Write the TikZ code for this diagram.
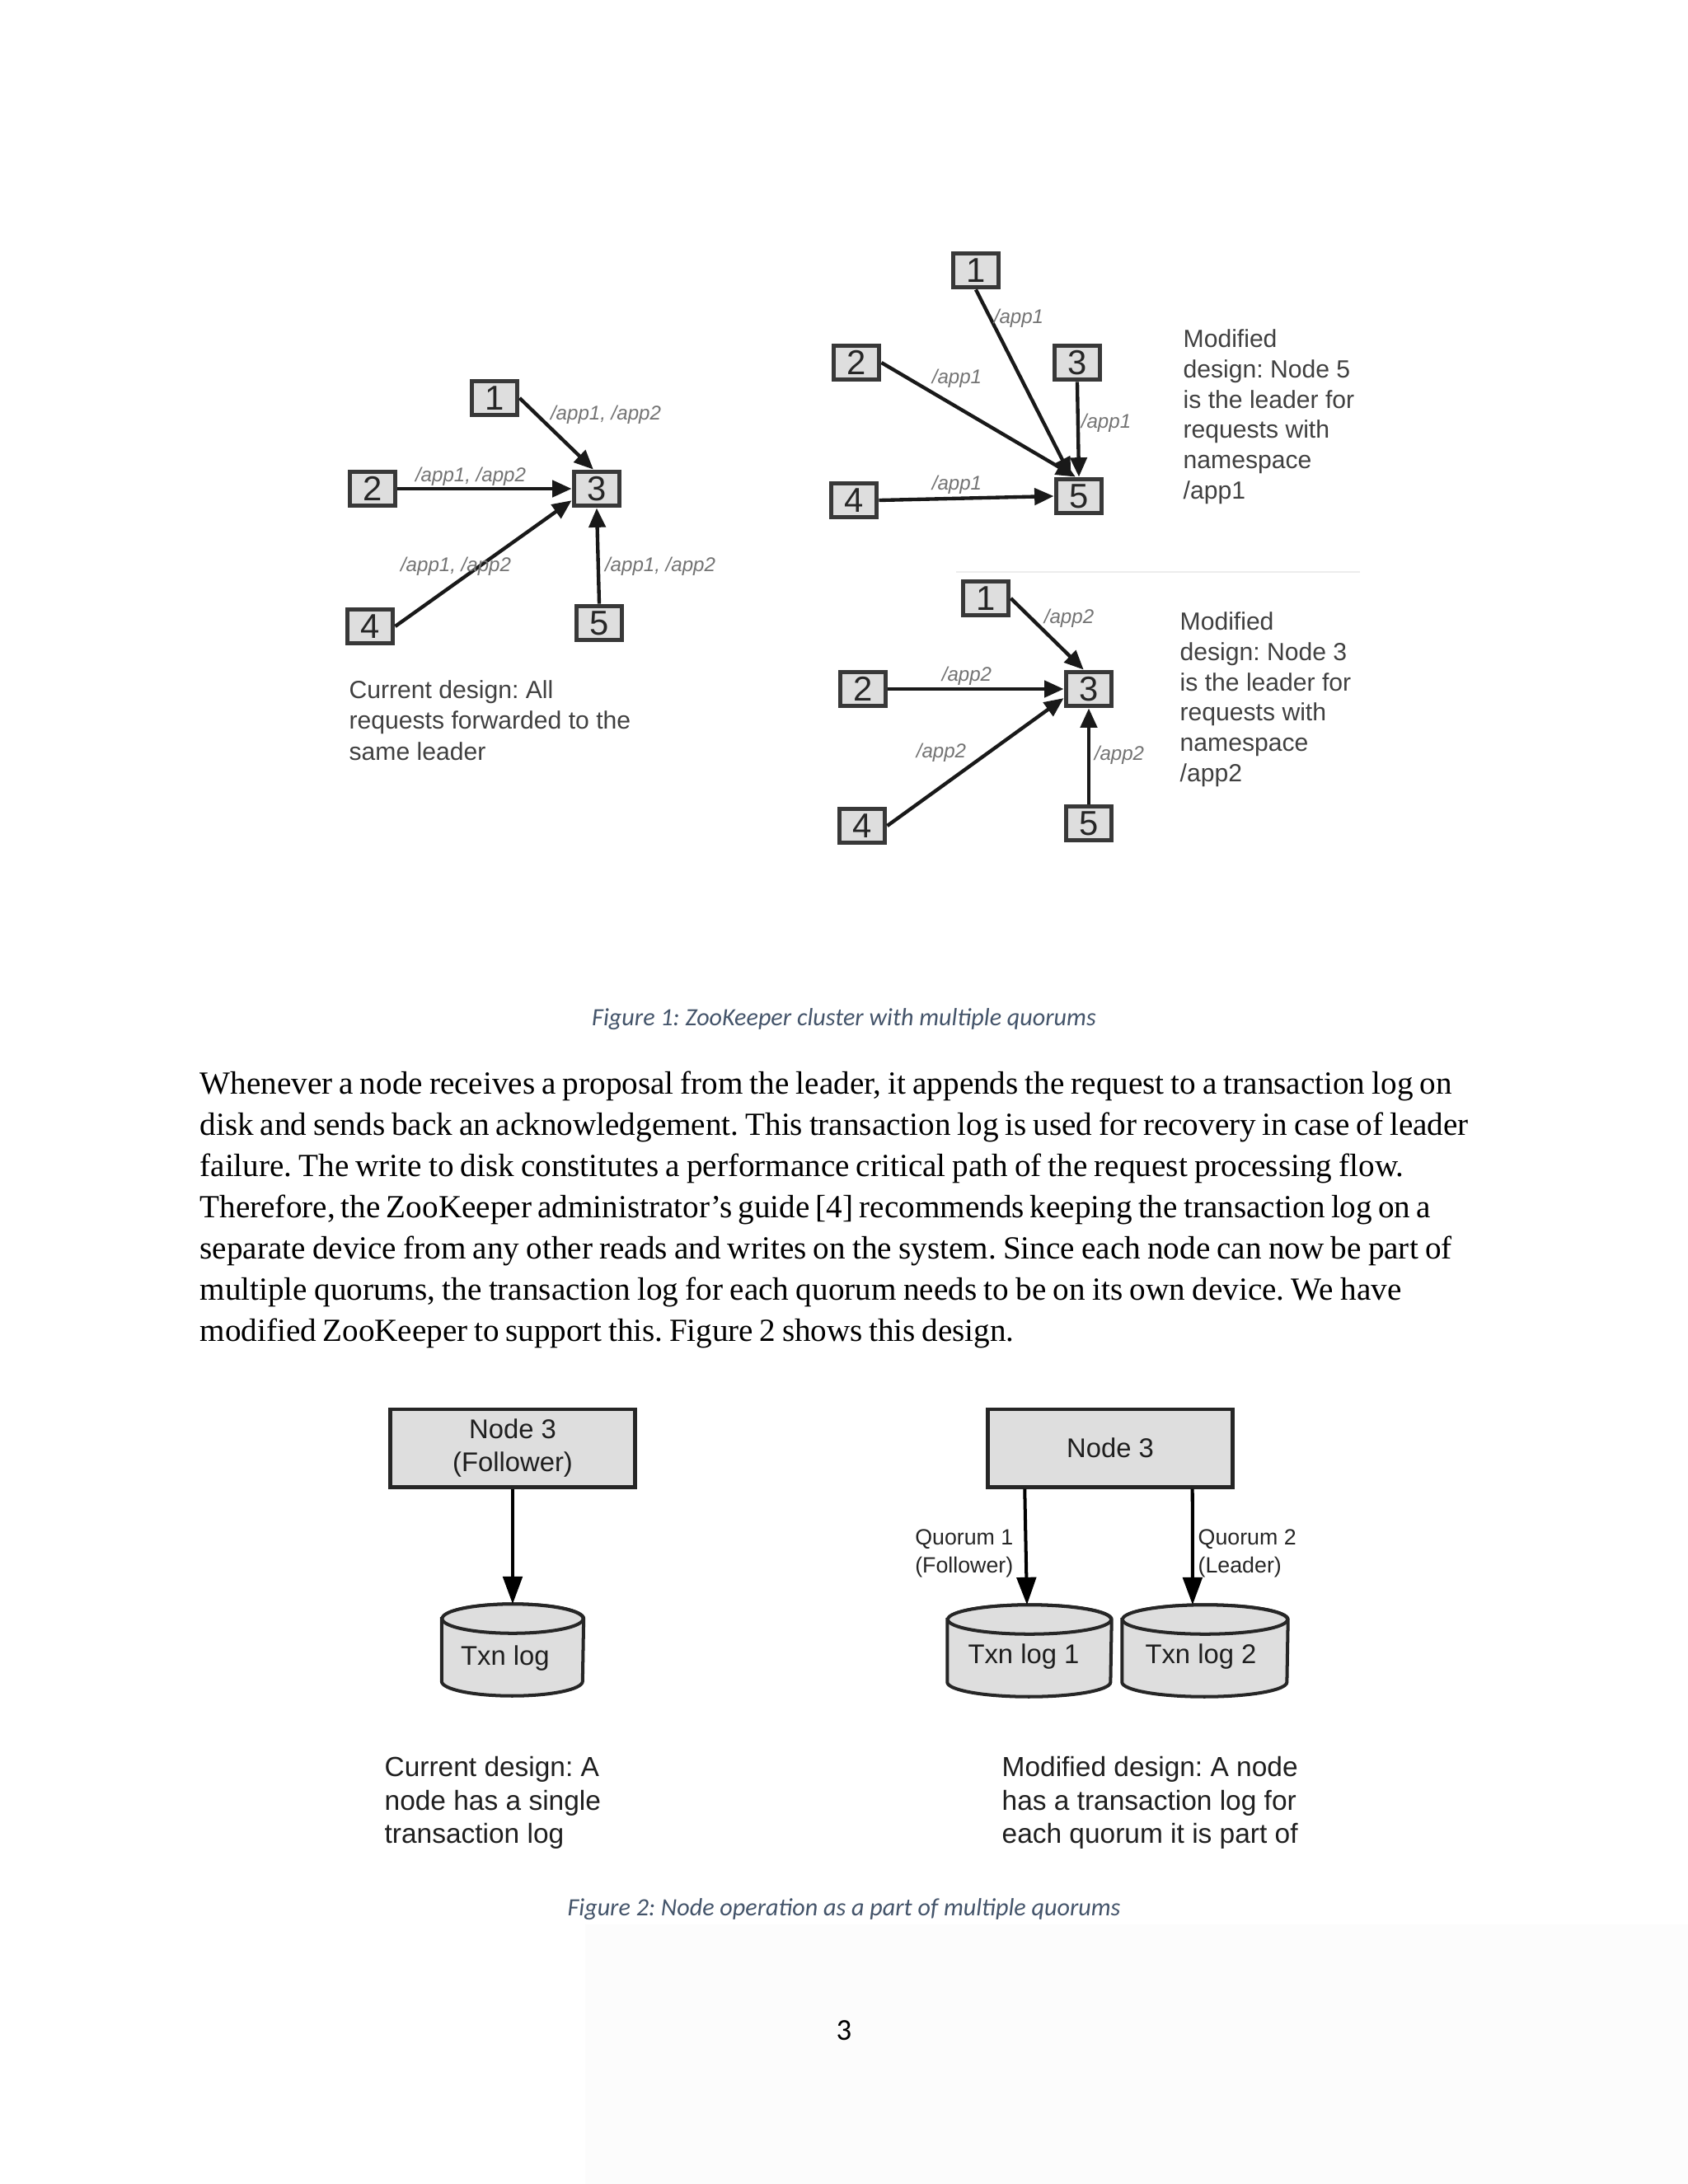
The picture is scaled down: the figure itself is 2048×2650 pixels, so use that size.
\documentclass[tikz,border=0pt]{standalone}
\usepackage{fontspec}
\setmainfont{Liberation Serif}
\newfontfamily\arialf{Liberation Sans}
\newfontfamily\calibrif{Carlito}
\usetikzlibrary{arrows.meta}
\pgfdeclarelayer{bg}
\pgfsetlayers{bg,main}
\definecolor{capcol}{HTML}{44546A}
\definecolor{boxfill}{HTML}{DEDEDE}
\definecolor{boxline}{HTML}{383838}
\newcommand\cylshape[3]{%
  \filldraw[cylst] ([yshift=-#3]#1.north west) -- ([yshift=#3]#1.south west)
    arc[start angle=180,end angle=360,x radius=#2,y radius=#3]
    -- ([yshift=-#3]#1.north east)
    arc[start angle=0,end angle=180,x radius=#2,y radius=#3] -- cycle;
  \filldraw[cylst] ([yshift=-#3]#1.north) ellipse[x radius=#2,y radius=#3];
}
\newlength\bodywd
\newcommand\bodyline[2]{\setlength\bodywd{#1}\spaceskip 0.25em plus 0.3em minus 0.12em\relax\hbox to \bodywd{#2}}
\begin{document}
\begin{tikzpicture}[x=0.29883pt,y=0.29883pt,
  every node/.append style={execute at begin node=\frenchspacing},
  numbox/.style={draw=boxline, fill=boxfill, line width=1.5pt, minimum width=16.7pt,
    minimum height=12.5pt, inner sep=0, font=\arialf\fontsize{12.5}{13}\selectfont, text=black!85},
  lbl/.style={font=\arialf\itshape\fontsize{7.2}{8}\selectfont, text=black!55, inner sep=0},
  conn/.style={line width=1.3pt, draw=black!90, -{Triangle[length=7pt,width=6pt]}},
  desc/.style={font=\arialf\fontsize{9}{11}\selectfont, text=black!75, align=left, inner sep=0, anchor=north west},
  desc2/.style={font=\arialf\fontsize{10}{12.1}\selectfont, text=black!88, align=left, inner sep=0, anchor=north west},
  bigbox/.style={draw=black!85, fill=boxfill, line width=1.3pt, minimum width=88.7pt,
    minimum height=28.3pt, inner sep=0, align=center, font=\arialf\fontsize{9.8}{12}\selectfont, text=black!88},
  conn2/.style={line width=1.2pt, draw=black, -{Triangle[length=10pt,width=7pt]}},
  cylnode/.style={minimum height=32.9pt, inner sep=0},
  cylst/.style={draw=black!85, fill=boxfill, line width=1.2pt},
  cyltext/.style={font=\arialf\fontsize{9.8}{12}\selectfont, text=black!88, inner sep=0},
  qlbl/.style={font=\arialf\fontsize{8}{10.2}\selectfont, text=black!85, align=left, inner sep=0},
  body/.style={font=\fontsize{11.7}{14.9}\selectfont, anchor=base west, inner sep=0},
  caption/.style={font=\calibrif\itshape\fontsize{9}{11}\selectfont, text=capcol, anchor=base, inner sep=0}
]
\useasboundingbox (0,0) rectangle (2048,-2650);
\fill[black!1] (710,-2335) rectangle (2048,-2650);

% ---------- Figure 1, left ----------
\node[numbox] (L1) at (600,-483) {1};
\node[numbox] (L2) at (452,-593) {2};
\node[numbox] (L3) at (724,-593) {3};
\node[numbox] (L4) at (449,-760) {4};
\node[numbox] (L5) at (727,-756) {5};
\draw[conn] (L1.east) -- (L3.100);
\draw[conn] (L2.east) -- (L3.west);
\draw[conn] (L4.east) -- (L3.205);
\draw[conn] (L5.north) -- (L3.south);
\node[lbl] (la1) at (735,-503) {/app1, /app2};
\node[lbl] (la2) at (571,-578) {/app1, /app2};
\node[lbl] (la3) at (553,-687) {/app1, /app2};
\node[lbl] (la4) at (801,-687) {/app1, /app2};
\node[desc, font=\arialf\fontsize{9}{11.2}\selectfont] (Ld) at (423,-825) {Current design: All\\requests forwarded to the\\same leader};

% ---------- Figure 1, top right ----------
\node[numbox] (R1) at (1184,-328) {1};
\node[numbox] (R2) at (1039,-440) {2};
\node[numbox] (R3) at (1307,-440) {3};
\node[numbox] (R4) at (1036,-607) {4};
\node[numbox] (R5) at (1309,-602) {5};
\draw[conn] (R1.south) -- (R5.112);
\draw[conn] (R2.east) -- (R5.100);
\draw[conn] (R3.south) -- (R5.north);
\draw[conn] (R4.east) -- (R5.west);
\node[lbl] (ra1) at (1236,-386) {/app1};
\node[lbl] (ra2) at (1161,-459) {/app1};
\node[lbl] (ra3) at (1342,-513) {/app1};
\node[lbl] (ra4) at (1161,-588) {/app1};
\node[desc] (Rd) at (1435,-399) {Modified\\design: Node 5\\is the leader for\\requests with\\namespace\\/app1};

\draw[black!7, line width=0.8pt] (1160,-694) -- (1650,-694);

% ---------- Figure 1, bottom right ----------
\node[numbox] (B1) at (1196,-726) {1};
\node[numbox] (B2) at (1047,-836) {2};
\node[numbox] (B3) at (1321,-836) {3};
\node[numbox] (B4) at (1046,-1002) {4};
\node[numbox] (B5) at (1321,-999) {5};
\draw[conn] (B1.east) -- (B3.105);
\draw[conn] (B2.east) -- (B3.west);
\draw[conn] (B4.east) -- (B3.200);
\draw[conn] (B5.north) -- (B3.south);
\node[lbl] (ba1) at (1297,-750) {/app2};
\node[lbl] (ba2) at (1173,-820) {/app2};
\node[lbl] (ba3) at (1142,-913) {/app2};
\node[lbl] (ba4) at (1358,-916) {/app2};
\node[desc] (Bd) at (1431,-742) {Modified\\design: Node 3\\is the leader for\\requests with\\namespace\\/app2};

\node[caption] (cap1) at (1024,-1244) {Figure 1: ZooKeeper cluster with multiple quorums};

% ---------- Body text ----------
\node[body] (p1) at (242,-1327) {\bodyline{453.9pt}{Whenever a node receives a proposal from the leader, it appends the request to a transaction log on}};
\node[body] (p2) at (242,-1377) {\bodyline{459.9pt}{disk and sends back an acknowledgement. This transaction log is used for recovery in case of leader}};
\node[body] (p3) at (242,-1427) {\bodyline{436.5pt}{failure. The write to disk constitutes a performance critical path of the request processing flow.}};
\node[body] (p4) at (242,-1477) {\bodyline{446.2pt}{Therefore, the ZooKeeper administrator's guide [4] recommends keeping the transaction log on a}};
\node[body] (p5) at (242,-1527) {\bodyline{453.9pt}{separate device from any other reads and writes on the system. Since each node can now be part of}};
\node[body] (p6) at (242,-1577) {\bodyline{435.6pt}{multiple quorums, the transaction log for each quorum needs to be on its own device. We have}};
\node[body] (p7) at (242,-1627) {\bodyline{295.2pt}{modified ZooKeeper to support this. Figure 2 shows this design.}};

% ---------- Figure 2 ----------
\node[bigbox] (N0) at (622,-1757) {Node 3\\(Follower)};
\node[bigbox] (N1) at (1347,-1757) {Node 3};

\node[cylnode, minimum width=51.1pt] (C0) at (622,-2002) {};
\node[cylnode, minimum width=59.2pt] (C1) at (1249,-2003) {};
\node[cylnode, minimum width=59.8pt] (C2) at (1462,-2003) {};
\begin{pgfonlayer}{bg}
\cylshape{C0}{25.55pt}{5.3pt}
\cylshape{C1}{29.6pt}{5.3pt}
\cylshape{C2}{29.9pt}{5.3pt}
\end{pgfonlayer}
\node[cyltext] (C0t) at ([xshift=-2.7pt,yshift=-3pt]C0.center) {Txn log};
\node[cyltext] (C1t) at ([xshift=-2.1pt,yshift=-2.1pt]C1.center) {Txn log 1};
\node[cyltext] (C2t) at ([xshift=-1.5pt,yshift=-2.1pt]C2.center) {Txn log 2};

\draw[conn2] (N0.south) -- (C0.north);
\draw[conn2] ([xshift=14pt]N1.south west) -- ([xshift=-0.9pt]C1.north);
\draw[conn2] ([xshift=-15.2pt]N1.south east) -- ([xshift=-4.5pt]C2.north);

\node[qlbl, anchor=east] (Q1) at (1230,-1885) {Quorum 1\\(Follower)};
\node[qlbl, anchor=west] (Q2) at (1453,-1885) {Quorum 2\\(Leader)};

\node[desc2] (D4) at (466,-2131) {Current design: A\\node has a single\\transaction log};
\node[desc2] (D5) at (1215,-2131) {Modified design: A node\\has a transaction log for\\each quorum it is part of};

\node[caption] (cap2) at (1024,-2324) {Figure 2: Node operation as a part of multiple quorums};
\node[font=\calibrif\fontsize{11}{13}\selectfont, anchor=base, inner sep=0] (pg) at (1024,-2475) {3};
\end{tikzpicture}
\end{document}
